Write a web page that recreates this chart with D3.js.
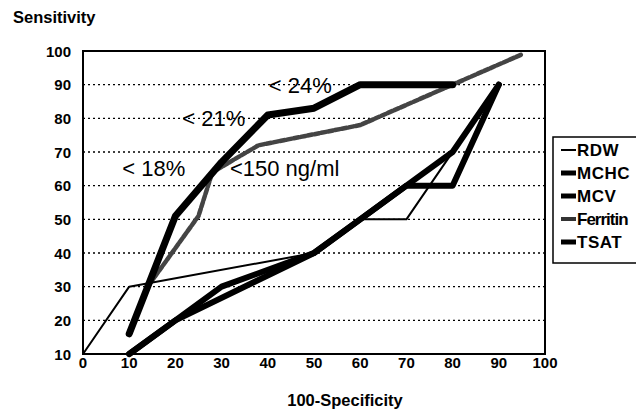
<!DOCTYPE html>
<html>
<head>
<meta charset="utf-8">
<script src="https://cdn.jsdelivr.net/npm/d3@7"></script>
<style>
body { margin:0; background:#fff; }
text { font-family: Arial, "Liberation Sans", sans-serif; }
</style>
</head>
<body>
<svg id="svg" width="636" height="411"></svg>
<script>
var svg = d3.select("#svg");

// DATA
var xTicks = [0,10,20,30,40,50,60,70,80,90,100];
var yTicks = [10,20,30,40,50,60,70,80,90,100];
var rdw = [[0,10],[10,30],[50,40],[60,50],[70,50],[90,90]];
var mchc = [[10,10],[20,20],[30,30],[50,40],[60,50],[70,60],[80,60],[90,90]];
var mcv = [[10,10],[20,20],[50,40],[60,50],[70,60],[80,70],[90,90]];
var ferritin = [[10,16],[14,30],[25,51],[28,64],[38,72],[60,78],[80,90],[95,99]];
var tsat = [[10,16],[14,30],[20,51],[30,67],[40,81],[50,83],[60,90],[80,90]];
var seriesNames = ["RDW","MCHC","MCV","Ferritin","TSAT"];
var notes = [
  {t:"< 24%", x:40.2, y:90},
  {t:"< 21%", x:21.5, y:80},
  {t:"< 18%", x:8.5, y:65.2},
  {t:"<150 ng/ml", x:31.8, y:65.2}
];

var x = d3.scaleLinear().domain([0,100]).range([83,545]);
var y = d3.scaleLinear().domain([10,100]).range([354,51]);

// gridlines
svg.append("g").selectAll("line")
.data(yTicks.filter(function(d){ return d>10 && d<100; }))
.enter().append("line")
.attr("x1",x(0)).attr("x2",x(100))
.attr("y1",function(d){ return y(d); })
.attr("y2",function(d){ return y(d); })
.attr("stroke","#000")
.attr("stroke-width",1.4)
.attr("stroke-dasharray","2,3");

// frame
svg.append("rect")
.attr("x",x(0)).attr("y",y(100))
.attr("width",x(100)-x(0)).attr("height",y(10)-y(100))
.attr("fill","none").attr("stroke","#000").attr("stroke-width",2);

// axes labels
svg.append("g").selectAll("text").data(yTicks).enter().append("text")
.attr("x",71).attr("y",function(d){ return y(d)+5.5; })
.attr("text-anchor","end")
.style("font-size","15px").style("font-weight","bold")
.text(function(d){ return d; });

svg.append("g").selectAll("text").data(xTicks).enter().append("text")
.attr("x",function(d){ return x(d); }).attr("y",368)
.attr("text-anchor","middle")
.style("font-size","15px").style("font-weight","bold")
.text(function(d){ return d; });

svg.append("text").attr("x",13).attr("y",23)
.style("font-size","16.5px").style("font-weight","bold")
.text("Sensitivity");

svg.append("text").attr("x",345).attr("y",406)
.attr("text-anchor","middle")
.style("font-size","16.5px").style("font-weight","bold")
.text("100-Specificity");

var line = d3.line()
.x(function(d){ return x(d[0]); })
.y(function(d){ return y(d[1]); });

function drawLine(data, color, width, dash){
  var p = svg.append("path").datum(data)
  .attr("d",line)
  .attr("fill","none")
  .attr("stroke",color)
  .attr("stroke-width",width)
  .attr("stroke-linejoin","round")
  .attr("stroke-linecap","round");
  if (dash) p.attr("stroke-dasharray",dash);
  return p;
}

drawLine(ferritin,"#444",4.5,"5,2");
drawLine(mchc,"#000",6);
drawLine(mcv,"#000",6);
drawLine(rdw,"#000",2);
drawLine(tsat,"#000",7);

// annotations
svg.append("g").selectAll("text").data(notes).enter().append("text")
.attr("x",function(d){ return x(d.x); })
.attr("y",function(d){ return y(d.y)+8; })
.style("font-size","22px")
.text(function(d){ return d.t; });

// LEGEND
var leg = svg.append("g").attr("transform","translate(553,137)");
leg.append("rect").attr("width",90).attr("height",126)
.attr("fill","#fff").attr("stroke","#000").attr("stroke-width",1.5);

var legStyle = {
  "RDW": {w:2, c:"#000"},
  "MCHC": {w:5, c:"#000"},
  "MCV": {w:5, c:"#000"},
  "Ferritin": {w:4, c:"#333"},
  "TSAT": {w:5, c:"#000"}
};

var items = leg.selectAll("g.item").data(seriesNames).enter().append("g")
.attr("class","item")
.attr("transform",function(d,i){ return "translate(0," + (13 + i*23) + ")"; });

items.append("line")
.attr("x1",8).attr("x2",23).attr("y1",0).attr("y2",0)
.attr("stroke",function(d){ return legStyle[d].c; })
.attr("stroke-width",function(d){ return legStyle[d].w; });

items.append("text")
.attr("x",24).attr("y",6)
.style("font-size","17px").style("font-weight","bold")
.style("letter-spacing",function(d){ return d=="Ferritin" ? "-1px" : "0.5px"; })
.text(function(d){ return d; });
</script>
</body>
</html>
